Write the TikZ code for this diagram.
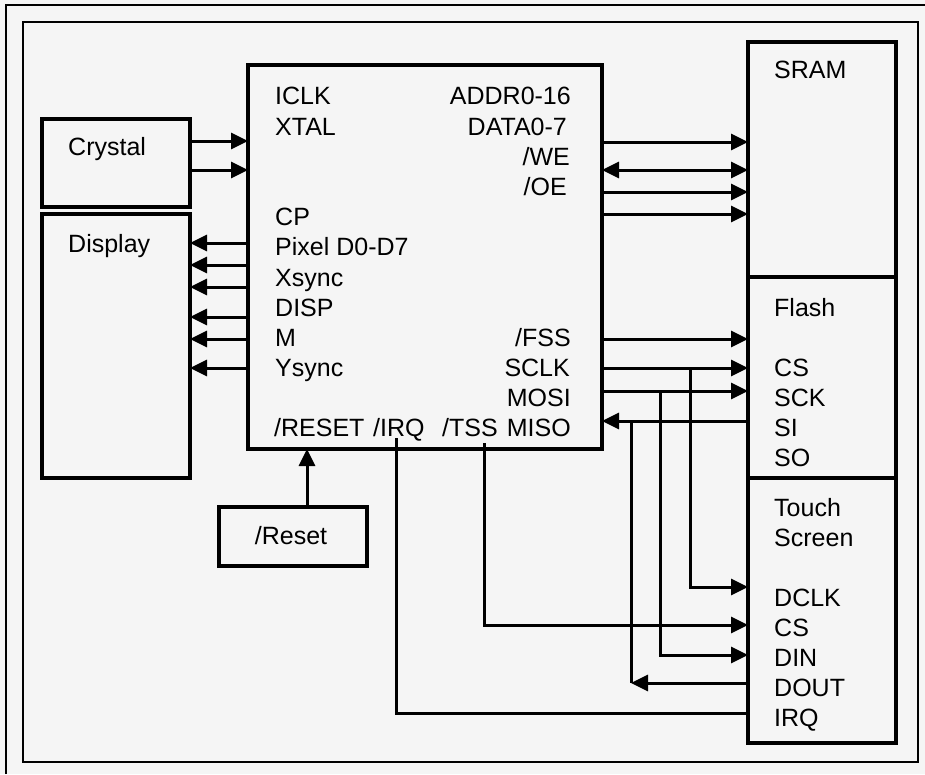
\documentclass[tikz,border=0pt]{standalone}
\usepackage{fontspec}
\setmainfont{Liberation Sans}
\usetikzlibrary{arrows.meta}
\begin{document}
\begin{tikzpicture}[x=1pt,y=-1pt,
  box/.style={draw, line width=3.2pt, rectangle, outer sep=0pt, inner sep=0pt, anchor=north west},
  lbl/.style={inner sep=0pt, font=\fontsize{25}{30}\selectfont},
  lw/.style={lbl, anchor=base west},
  le/.style={lbl, anchor=base east},
  wire/.style={line width=3pt},
  arr/.style={wire, -{Triangle[length=17pt,width=16pt]}},
  biarr/.style={wire, {Triangle[length=17pt,width=16pt]}-{Triangle[length=17pt,width=16pt]}},
  frameline/.style={line width=1.6pt}]
\fill[black!4] (0,0) rectangle (925,774);
\useasboundingbox (0,0) rectangle (925,774);
% frames
\draw[frameline] (6,774) -- (6,5) -- (925,5);
\draw[frameline] (23,22) rectangle (918,762);
% boxes
\node[box, minimum width=148pt, minimum height=88pt] (crystal) at (42,119) {};
\node[box, minimum width=148pt, minimum height=264pt] (display) at (42,214) {};
\node[box, minimum width=354pt, minimum height=384pt] (chip) at (248,65) {};
\node[box, minimum width=148pt, minimum height=235pt] (sram) at (748,42) {};
\node[box, minimum width=148pt, minimum height=201pt] (flash) at (748,277) {};
\node[box, minimum width=148pt, minimum height=265pt] (touch) at (748,478) {};
\node[box, minimum width=148pt, minimum height=59pt] (reset) at (219,507) {};
% box labels
\node[lw] (tcrystal) at (68,155) {Crystal};
\node[lw] (tdisplay) at (68,252) {Display};
\node[lbl, anchor=base] (treset) at (291,544) {/Reset};
\node[lw] (tsram) at (774,78) {SRAM};
\node[lw] (tflash) at (774,316) {Flash};
\node[lw] (tfcs) at (774,376) {CS};
\node[lw] (tfsck) at (774,406) {SCK};
\node[lw] (tfsi) at (774,436) {SI};
\node[lw] (tfso) at (774,466) {SO};
\node[lw] (ttouch) at (774,516) {Touch};
\node[lw] (tscreen) at (774,546) {Screen};
\node[lw] (tdclk) at (774,606) {DCLK};
\node[lw] (ttcs) at (774,636) {CS};
\node[lw] (tdin) at (774,666) {DIN};
\node[lw] (tdout) at (774,696) {DOUT};
\node[lw] (tirq) at (774,726) {IRQ};
% chip labels, left column
\node[lw] (ticlk) at (275,104) {ICLK};
\node[lw] (txtal) at (275,135) {XTAL};
\node[lw] (tcp) at (275,225) {CP};
\node[lw] (tpix) at (275,255) {Pixel D0-D7};
\node[lw] (txs) at (275,286) {Xsync};
\node[lw] (tdisp) at (275,316) {DISP};
\node[lw] (tm) at (275,346) {M};
\node[lw] (tys) at (275,376) {Ysync};
\node[lw] (trst) at (274,436) {/RESET};
\node[lw] (tcirq) at (373,436) {/IRQ};
\node[lw] (ttss) at (442,436) {/TSS};
% chip labels, right column
\node[le] (taddr) at (571,104) {ADDR0-16};
\node[le] (tdata) at (567,135) {DATA0-7};
\node[le] (twe) at (570,165) {/WE};
\node[le] (toe) at (567,195) {/OE};
\node[le] (tfss) at (571,346) {/FSS};
\node[le] (tsclk) at (570,376) {SCLK};
\node[le] (tmosi) at (571,406) {MOSI};
\node[le] (tmiso) at (571,436) {MISO};
% crystal -> chip
\foreach \yy in {141,170} \draw[arr] (crystal.east |- 0,\yy) -- (chip.west |- 0,\yy);
% chip -> display
\foreach \yy in {243,265,287,317,339,368} \draw[arr] (chip.west |- 0,\yy) -- (display.east |- 0,\yy);
% chip -> sram
\foreach \yy in {142,192,214} \draw[arr] (chip.east |- 0,\yy) -- (sram.west |- 0,\yy);
\draw[biarr] (chip.east |- 0,170) -- (sram.west |- 0,170);
% chip <-> flash
\foreach \yy in {339,368,391} \draw[arr] (chip.east |- 0,\yy) -- (flash.west |- 0,\yy);
\draw[arr] (flash.west |- 0,421) -- (chip.east |- 0,421);
% taps to touch screen
\coordinate (tapsclk) at (690,368);
\coordinate (tapmosi) at (660,391);
\coordinate (tapmiso) at (631,421);
\coordinate (tsspin) at (484,443);
\coordinate (irqpin) at (396,438);
\draw[arr] (tapsclk) |- (touch.west |- 0,587);
\draw[arr] (tapmosi) |- (touch.west |- 0,655);
\draw[wire] (tapmiso) -- (tapmiso |- 0,683);
\draw[arr] (touch.west |- 0,683) -- (tapmiso |- 0,683);
\draw[arr] (tsspin) |- (touch.west |- 0,625);
\draw[wire] (touch.west |- 0,713) -| (irqpin);
% reset
\draw[arr] (reset.north -| 307,0) -- (chip.south -| 307,0);
\end{tikzpicture}
\end{document}
